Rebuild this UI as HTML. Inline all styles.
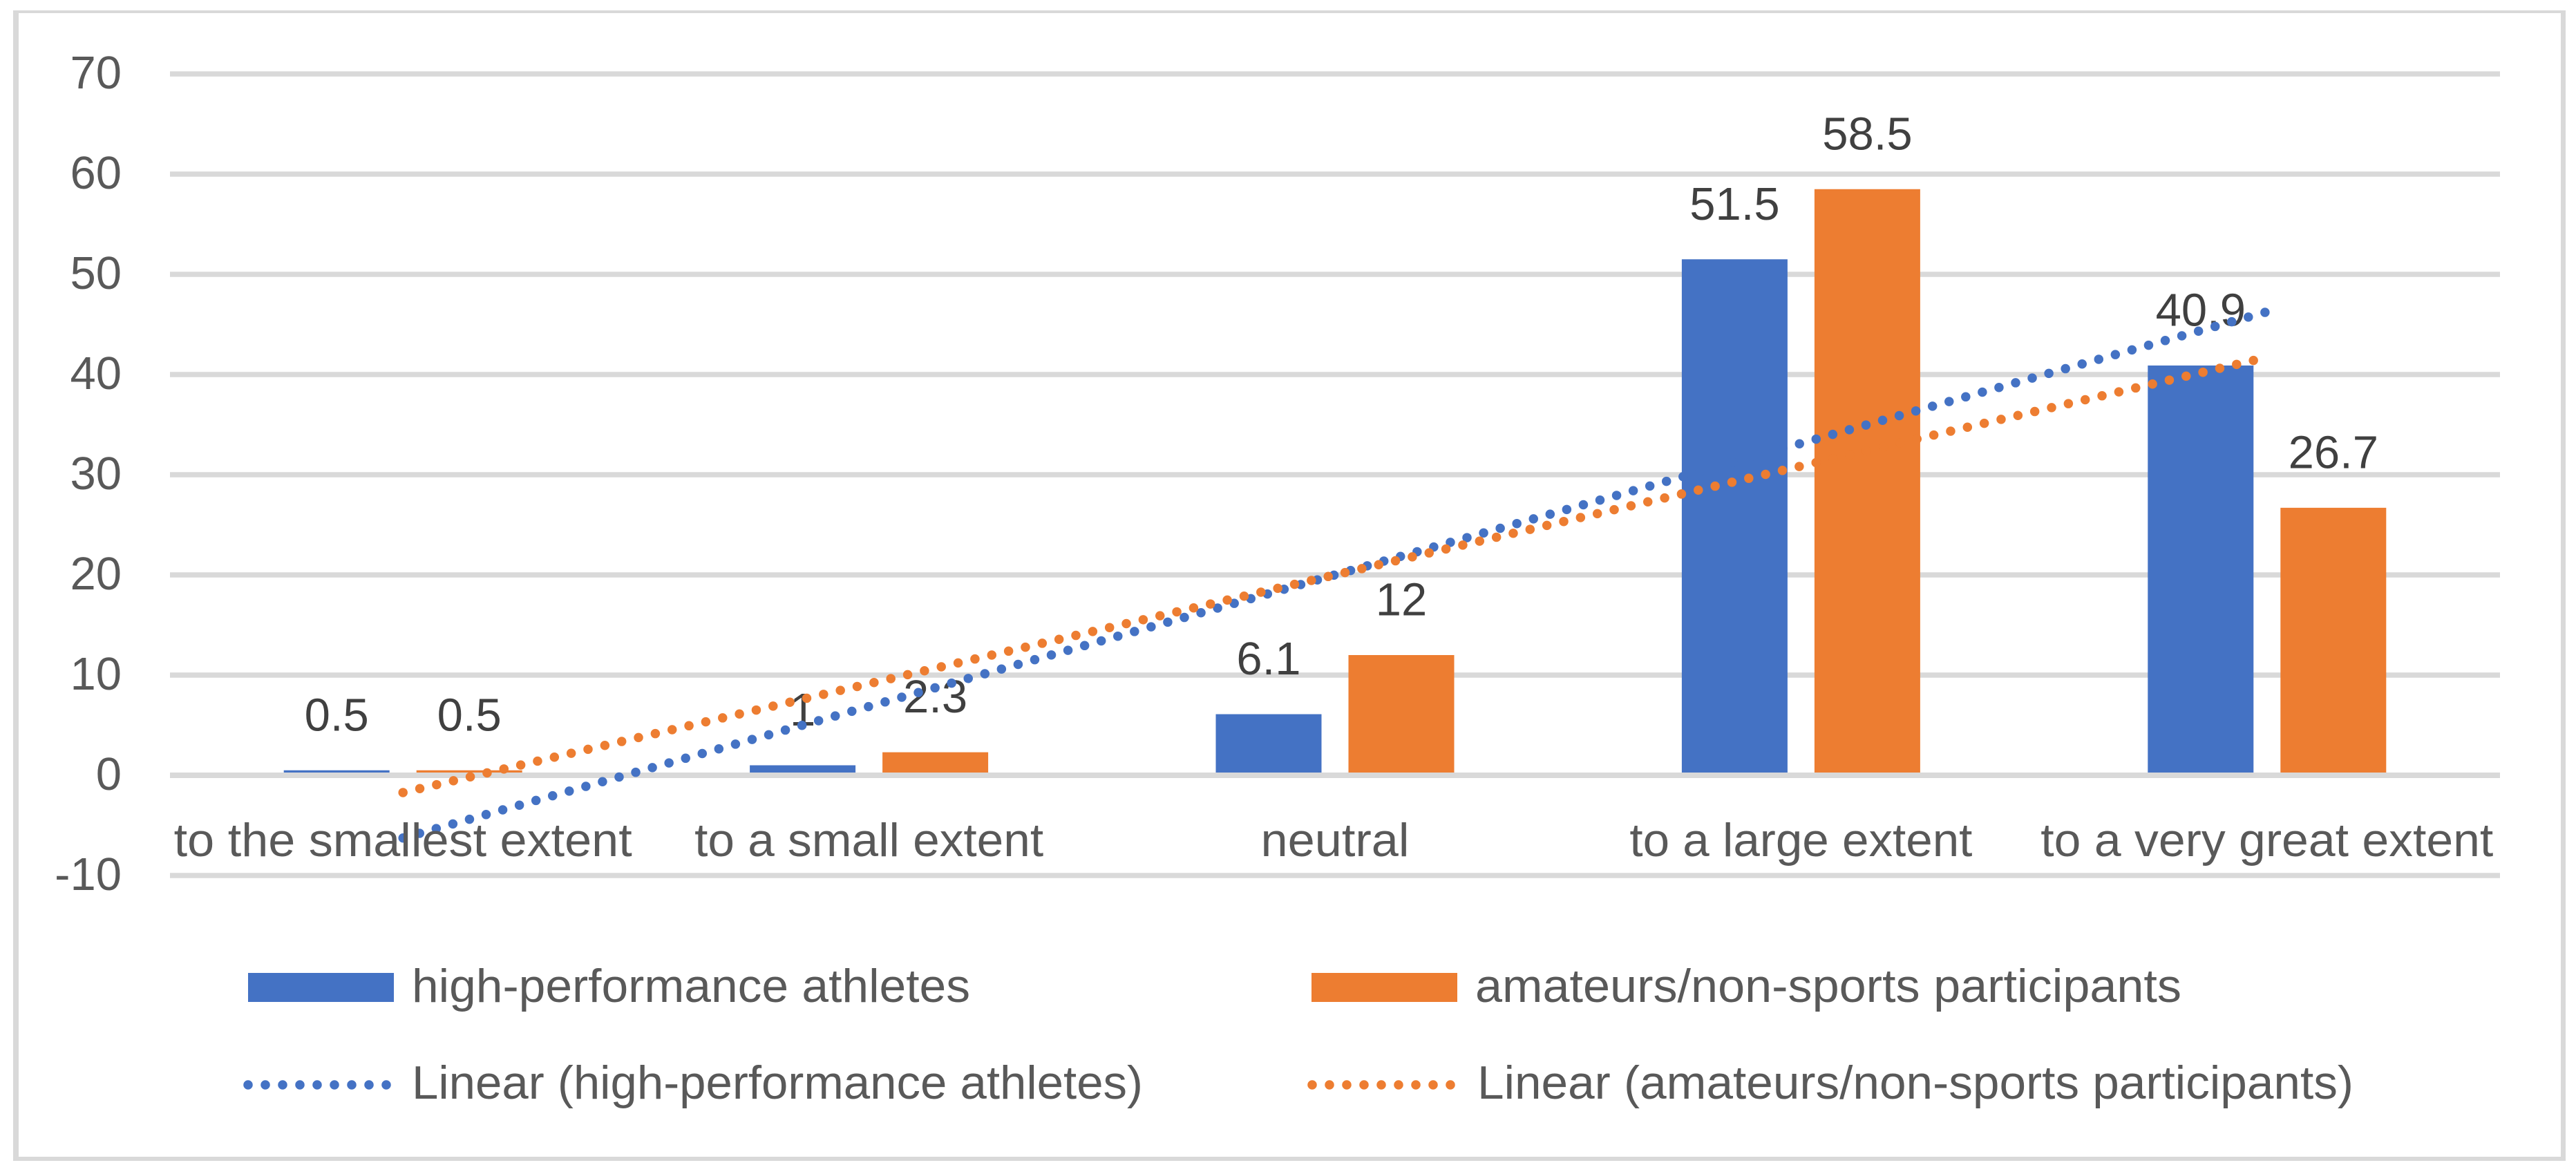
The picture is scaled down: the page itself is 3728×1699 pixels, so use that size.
<!DOCTYPE html>
<html lang="en">
<head>
<meta charset="utf-8">
<title>Extent chart: high-performance athletes vs amateurs</title>
<style>
  html, body { margin: 0; padding: 0; background: #ffffff; }
  #chart { display: block; width: 3728px; height: 1699px; }
  text { font-family: "Liberation Sans", sans-serif; }
  .tick { font-size: 67px; fill: #595959; }
  .cat { font-size: 68px; fill: #595959; }
  .val { font-size: 67px; fill: #404040; }
  .leg { font-size: 68px; fill: #595959; }
</style>
</head>
<body>
<svg id="chart" xmlns="http://www.w3.org/2000/svg" width="3728" height="1699" viewBox="0 0 3728 1699">
  <rect x="0" y="0" width="3728" height="1699" fill="#ffffff"/>
  <g fill="#d9d9d9">
    <rect x="19" y="15" width="8" height="1665"/>
    <rect x="19" y="15" width="3694" height="4"/>
    <rect x="3706" y="15" width="7" height="1665"/>
    <rect x="19" y="1674" width="3694" height="6"/>
  </g>
  <g id="grid"></g>
  <g id="yticks"></g>
  <g id="bars"></g>
  <g id="axis"></g>
  <g id="values"></g>
  <g id="trends"></g>
  <g id="cats"></g>
  <g>
    <g>
      <rect x="359" y="1408" width="211" height="42" fill="#4472c4"/>
      <text class="leg" x="596" y="1450" textLength="808" lengthAdjust="spacingAndGlyphs">high-performance athletes</text>
    </g>
    <g>
      <rect x="1898" y="1408" width="211" height="42" fill="#ed7d31"/>
      <text class="leg" x="2135" y="1450" textLength="1022" lengthAdjust="spacingAndGlyphs">amateurs/non-sports participants</text>
    </g>
    <g>
      <line x1="359" y1="1570" x2="560" y2="1570" stroke="#4472c4" stroke-width="13.5" stroke-linecap="round" stroke-dasharray="0 25"/>
      <text class="leg" x="596" y="1590" textLength="1058" lengthAdjust="spacingAndGlyphs">Linear (high-performance athletes)</text>
    </g>
    <g>
      <line x1="1899" y1="1570" x2="2100" y2="1570" stroke="#ed7d31" stroke-width="13.5" stroke-linecap="round" stroke-dasharray="0 25"/>
      <text class="leg" x="2138" y="1590" textLength="1268" lengthAdjust="spacingAndGlyphs">Linear (amateurs/non-sports participants)</text>
    </g>
  </g>
</svg>
<script>
const categories = ["to the smallest extent", "to a small extent", "neutral", "to a large extent", "to a very great extent"];
const highPerformance = [0.5, 1, 6.1, 51.5, 40.9];
const amateurs = [0.5, 2.3, 12, 58.5, 26.7];
const yTicks = [70, 60, 50, 40, 30, 20, 10, 0, -10];

const plotLeft = 246, plotRight = 3618, zeroY = 1122, pxPerUnit = 14.5;
const barWidth = 153, barGap = 39;
const categoryFit = {
  "to the smallest extent": 663,
  "to a small extent": 505,
  "neutral": 215,
  "to a large extent": 496,
  "to a very great extent": 655
};
const NS = "http://www.w3.org/2000/svg";

function yScale(v) { return zeroY - v * pxPerUnit; }
function xCenter(i) { return plotLeft + (plotRight - plotLeft) / categories.length * (i + 0.5); }
function make(tag, parentId) {
  const el = document.createElementNS(NS, tag);
  document.getElementById(parentId).appendChild(el);
  return el;
}
function linearFit(values) {
  const n = values.length;
  let sx = 0, sy = 0, sxy = 0, sxx = 0;
  values.forEach(function (v, i) { sx += i; sy += v; sxy += i * v; sxx += i * i; });
  const slope = (n * sxy - sx * sy) / (n * sxx - sx * sx);
  const intercept = (sy - slope * sx) / n;
  return function (i) { return intercept + slope * i; };
}

yTicks.forEach(function (t) {
  const line = make("rect", "grid");
  
  
  line.setAttribute("x", plotLeft);
  line.setAttribute("y", yScale(t) - 3.75);
  line.setAttribute("width", plotRight - plotLeft);
  line.setAttribute("height", 7.5);
  line.setAttribute("fill", "#d9d9d9");

  const label = make("text", "yticks");
  
  
  label.setAttribute("class", "tick");
  label.setAttribute("x", 176);
  label.setAttribute("y", yScale(t) + 21);
  label.setAttribute("text-anchor", "end");
  label.textContent = String(t);
});

function drawSeries(values, color, offset, nameBar, nameValue) {
  values.forEach(function (v, i) {
    const cx = xCenter(i) + offset;
    const bar = make("rect", "bars");
    
    
    bar.setAttribute("x", cx - barWidth / 2);
    bar.setAttribute("y", yScale(v));
    bar.setAttribute("width", barWidth);
    bar.setAttribute("height", yScale(0) - yScale(v));
    bar.setAttribute("fill", color);

    const label = make("text", "values");
    
    
    label.setAttribute("class", "val");
    label.setAttribute("x", cx);
    label.setAttribute("y", yScale(v) - 57.5);
    label.setAttribute("text-anchor", "middle");
    label.textContent = String(v);
  });
}
const seriesOffset = (barWidth + barGap) / 2;
drawSeries(highPerformance, "#4472c4", -seriesOffset, "bar-high-performance", "value-label-high-performance");
drawSeries(amateurs, "#ed7d31", seriesOffset, "bar-amateurs", "value-label-amateurs");

const axisLine = make("rect", "axis");


axisLine.setAttribute("x", plotLeft);
axisLine.setAttribute("y", yScale(0) - 4);
axisLine.setAttribute("width", plotRight - plotLeft);
axisLine.setAttribute("height", 8);
axisLine.setAttribute("fill", "#d9d9d9");

function drawTrend(values, color, name) {
  const fit = linearFit(values);
  const last = values.length - 1;
  const path = make("path", "trends");
  
  
  path.setAttribute("d", "M" + xCenter(0) + " " + yScale(fit(0)) + " L" + xCenter(last) + " " + yScale(fit(last)));
  path.setAttribute("fill", "none");
  path.setAttribute("stroke", color);
  path.setAttribute("stroke-width", 13.5);
  path.setAttribute("stroke-linecap", "round");
  path.setAttribute("stroke-dasharray", "0 25");
}
drawTrend(highPerformance, "#4472c4", "trendline-high-performance");
drawTrend(amateurs, "#ed7d31", "trendline-amateurs");

categories.forEach(function (c, i) {
  const label = make("text", "cats");
  
  
  label.setAttribute("class", "cat");
  label.setAttribute("x", xCenter(i));
  label.setAttribute("y", 1239);
  label.setAttribute("text-anchor", "middle");
  if (categoryFit[c]) {
    label.setAttribute("textLength", categoryFit[c]);
    label.setAttribute("lengthAdjust", "spacingAndGlyphs");
  }
  label.textContent = c;
});
</script>
</body>
</html>
